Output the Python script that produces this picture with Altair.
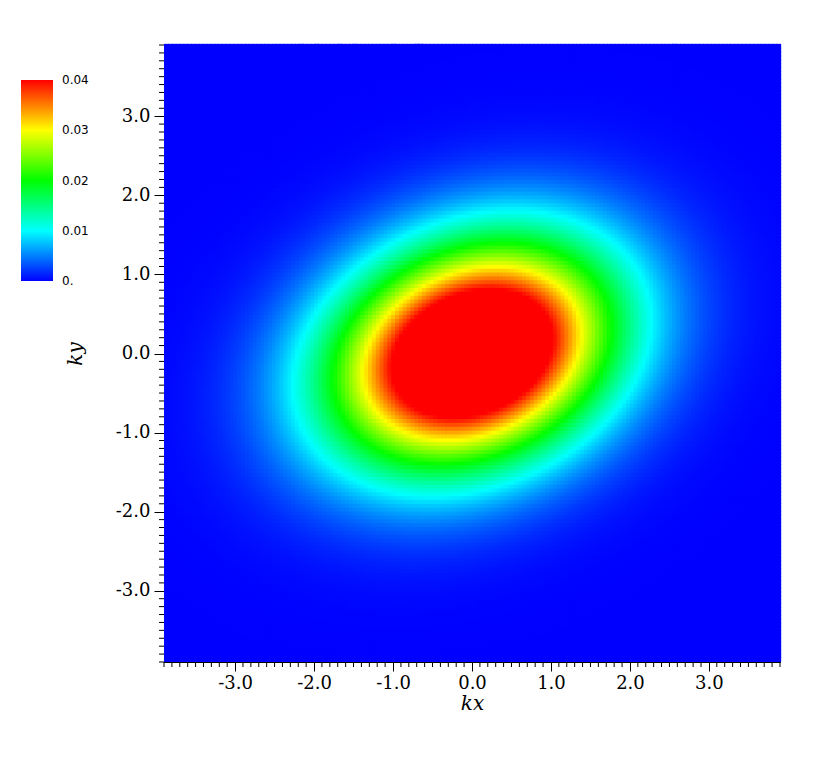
import altair as alt
import numpy as np
import pandas as pd

# ---- values ----
# axis range and tick labels
K_MIN, K_MAX = -3.9, 3.9
MAJOR_TICKS = [-3.0, -2.0, -1.0, 0.0, 1.0, 2.0, 3.0]
MINOR_TICKS = [k / 10 for k in range(-39, 40) if k % 10 != 0]
# colour bar
CBAR_VALUES = [0.0, 0.01, 0.02, 0.03, 0.04]
CBAR_LABEL_AT = [0.000001, 0.01, 0.02, 0.03, 0.039999]
CBAR_COLORS = ["#0000ff", "#00ffff", "#00ff00", "#ffff00", "#ff0000"]
# tilted peak: f = PEAK * exp(-(QXX kx^2 + 2 QXY kx ky + QYY ky^2))
PEAK = 0.057
QXX = 0.355
QXY = -0.10
QYY = 0.56
GRID_N = 160

step = (K_MAX - K_MIN) / GRID_N
centers = K_MIN + step * (np.arange(GRID_N) + 0.5)
KX, KY = np.meshgrid(centers, centers)
F = PEAK * np.exp(-(QXX * KX**2 + 2 * QXY * KX * KY + QYY * KY**2))
ov = step * 0.3
grid = pd.DataFrame({
    "x0": np.round(KX.ravel() - step / 2, 4),
    "x1": np.round(KX.ravel() + step / 2 + ov, 4),
    "y0": np.round(KY.ravel() - step / 2, 4),
    "y1": np.round(KY.ravel() + step / 2 + ov, 4),
    "f": np.round(F.ravel(), 6),
})

W, H = 616, 617
xs = alt.Scale(domain=[K_MIN, K_MAX], nice=False, zero=False)
ys = alt.Scale(domain=[K_MIN, K_MAX], nice=False, zero=False)
lab = "(datum.value < 0 ? '-' : '') + format(abs(datum.value), '.1f')"
SERIF = "DejaVu Serif"

heat = alt.Chart(grid).mark_rect(strokeWidth=0).encode(
    x=alt.X("x0:Q", scale=xs, axis=alt.Axis(
        values=MAJOR_TICKS, labelExpr=lab, title="kx", grid=False,
        tickSize=9, labelPadding=3, titlePadding=1, orient="bottom")),
    x2="x1:Q",
    y=alt.Y("y0:Q", scale=ys, axis=alt.Axis(
        values=MAJOR_TICKS, labelExpr=lab, title="ky", grid=False,
        tickSize=10, labelPadding=4, titlePadding=30, orient="left")),
    y2="y1:Q",
    color=alt.Color("f:Q", scale=alt.Scale(
        domain=CBAR_VALUES, range=CBAR_COLORS, clamp=True, interpolate="rgb"),
        legend=alt.Legend(
            title=None, orient="none", legendX=-143, legendY=35,
            direction="vertical", gradientLength=201, gradientThickness=32,
            values=CBAR_LABEL_AT,
            labelExpr="datum.value < 0.001 ? '0.' : format(datum.value, '.2f')",
            labelFont="DejaVu Sans", labelFontSize=12, labelColor="black",
            labelOffset=9, labelOverlap=False, padding=0,
            gradientStrokeWidth=0)),
)

minor_df = pd.DataFrame({"m": MINOR_TICKS})
xminor = alt.Chart(minor_df).mark_rule(color="black", strokeWidth=1).encode(
    x=alt.X("m:Q", scale=xs, axis=None),
    y=alt.value(H), y2=alt.value(H + 5),
)
yminor = alt.Chart(minor_df).mark_rule(color="black", strokeWidth=1).encode(
    y=alt.Y("m:Q", scale=ys, axis=None),
    x=alt.value(0), x2=alt.value(-5),
)

chart = alt.layer(heat, xminor, yminor).resolve_axis(
    x="independent", y="independent",
).properties(
    width=W, height=H,
    padding={"left": 13, "top": 35, "right": 5, "bottom": 5},
).configure_view(
    stroke="black", strokeWidth=1,
).configure_axis(
    labelFont=SERIF, labelFontSize=18, labelColor="black",
    titleFont=SERIF, titleFontSize=20, titleFontStyle="italic",
    titleFontWeight="normal", titleColor="black",
    domainColor="black", tickColor="black", domainWidth=1,
)

chart.save("out.html", embed_options={"renderer": "svg", "actions": False})
